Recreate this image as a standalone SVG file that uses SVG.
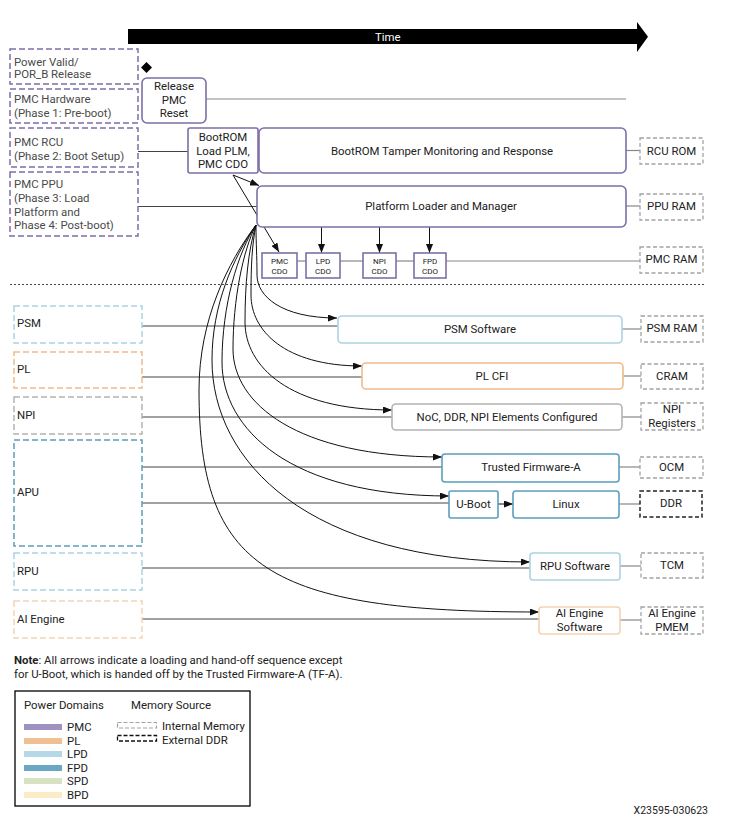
<svg xmlns="http://www.w3.org/2000/svg" width="740" height="827" viewBox="0 0 740 827">
<style>
text{font-family:Roboto,"Liberation Sans",Arial,sans-serif;font-size:11.4px;fill:#222}
.lbl{fill:#4a4a4a}
.c{text-anchor:middle}
.sm{font-size:8px}
.node{fill:#fff;stroke-width:1.6}
.pmc{stroke:#7d6fa6}
.pl{stroke:#efbb8c}
.lpd{stroke:#acd2e4}
.fpd{stroke:#5b9fbd}
.npi{stroke:#b3b3b3}
.aie{stroke:#f4d3b5}
.dom{fill:none;stroke-width:1.5;stroke-dasharray:6 3}
.mem{fill:#fff;stroke:#a3a3a3;stroke-width:1.3;stroke-dasharray:4 2.5}
.ext{fill:#fff;stroke:#222;stroke-width:1.5;stroke-dasharray:4 2.5}
.ln{fill:none;stroke:#444;stroke-width:1}
.gl{fill:none;stroke:#888;stroke-width:1.2}
.cv{fill:none;stroke:#111;stroke-width:1}
</style>
<defs>
<marker id="ah" markerUnits="userSpaceOnUse" markerWidth="9" markerHeight="7" refX="9" refY="3.5" orient="auto"><path d="M0,0 L9,3.5 L0,7 z" fill="#111"/></marker>
</defs>
<rect width="740" height="827" fill="#fff"/>

<g id="time-axis">
<path d="M128,29 L637,29 L637,22 L648,36.7 L637,52 L637,44 L128,44 Z" fill="#000"/>
<text x="375" y="40.5" style="fill:#fff">Time</text>
</g>

<g id="connectors">
<line class="gl" x1="206" y1="99" x2="626" y2="99"/>
<line class="ln" x1="138" y1="151.5" x2="188" y2="151.5"/>
<line class="ln" x1="138" y1="206.5" x2="257" y2="206.5"/>
<line class="gl" x1="626" y1="150.5" x2="640" y2="150.5"/>
<line class="gl" x1="626" y1="206" x2="640" y2="206"/>
<line class="gl" x1="297" y1="261" x2="306" y2="261"/>
<line class="gl" x1="340" y1="261" x2="363" y2="261"/>
<line class="gl" x1="396" y1="261" x2="414" y2="261"/>
<line class="gl" x1="446" y1="261" x2="640" y2="261"/>
<line x1="10" y1="284.5" x2="705" y2="284.5" stroke="#444" stroke-width="1" stroke-dasharray="2 2"/>
<line class="ln" x1="142" y1="326" x2="338" y2="326"/>
<line class="ln" x1="142" y1="377" x2="362" y2="377"/>
<line class="ln" x1="142" y1="417" x2="392" y2="417"/>
<line class="ln" x1="142" y1="467" x2="442" y2="467"/>
<line class="ln" x1="142" y1="503" x2="449" y2="503"/>
<line class="ln" x1="142" y1="568" x2="530" y2="568"/>
<line class="ln" x1="142" y1="619" x2="539" y2="619"/>
<line class="gl" x1="622" y1="329" x2="641" y2="329"/>
<line class="gl" x1="623" y1="376" x2="641" y2="376"/>
<line class="gl" x1="622" y1="417" x2="641" y2="417"/>
<line class="gl" x1="619" y1="467" x2="640" y2="467"/>
<line class="gl" x1="619" y1="504" x2="640" y2="504"/>
<line class="gl" x1="620" y1="566" x2="641" y2="566"/>
<line class="gl" x1="620" y1="620" x2="641" y2="620"/>
<line class="cv" x1="233" y1="175" x2="259" y2="185.5" marker-end="url(#ah)"/>
<line class="cv" x1="233" y1="175" x2="279" y2="252" marker-end="url(#ah)"/>
<line class="cv" x1="321.5" y1="227" x2="321.5" y2="253" marker-end="url(#ah)"/>
<line class="cv" x1="379.5" y1="227" x2="379.5" y2="253" marker-end="url(#ah)"/>
<line class="cv" x1="429.5" y1="227" x2="429.5" y2="253" marker-end="url(#ah)"/>
<line class="cv" x1="498" y1="504" x2="513" y2="504" marker-end="url(#ah)"/>
<path class="cv" d="M256,225 C256,245 257,255 257,275 C257,296 281,318 337,318" marker-end="url(#ah)"/>
<path class="cv" d="M256,225 C252,245 251,265 251,295 C251,330 284,366 362,366" marker-end="url(#ah)"/>
<path class="cv" d="M256,225 C248,250 245,285 245,322 C245,366 289,410 392,410" marker-end="url(#ah)"/>
<path class="cv" d="M256,225 C243,250 233,300 233,349 C233,403 296,457 442,457" marker-end="url(#ah)"/>
<path class="cv" d="M256,225 C238,252 222,305 222,362 C222,429 290,496 449,496" marker-end="url(#ah)"/>
<path class="cv" d="M256,225 C233,258 212,305 212,360 C212,461 307,562 530,562" marker-end="url(#ah)"/>
<path class="cv" d="M256,225 C228,262 199,320 199,390 C199,568 267,612 539,612" marker-end="url(#ah)"/>
</g>

<g id="power-valid"><rect class="dom pmc" x="10" y="49" width="128" height="35"/><text class="lbl" x="14" y="65.5">Power Valid/</text><text class="lbl" x="14" y="78">POR_B Release</text></g>
<g id="pmc-hardware"><rect class="dom pmc" x="10" y="89" width="128" height="34"/><text class="lbl" x="14" y="103">PMC Hardware</text><text class="lbl" x="14" y="116.5">(Phase 1: Pre-boot)</text></g>
<g id="pmc-rcu"><rect class="dom pmc" x="10" y="128" width="128" height="39"/><text class="lbl" x="14" y="146">PMC RCU</text><text class="lbl" x="14" y="159.5">(Phase 2: Boot Setup)</text></g>
<g id="pmc-ppu"><rect class="dom pmc" x="10" y="172" width="128" height="64"/><text class="lbl" x="14" y="188">PMC PPU</text><text class="lbl" x="14" y="202">(Phase 3: Load</text><text class="lbl" x="14" y="215.5">Platform and</text><text class="lbl" x="14" y="229">Phase 4: Post-boot)</text></g>
<g id="por-marker"><path d="M146.5,62 L152,67.5 L146.5,73 L141,67.5 Z" fill="#000"/></g>

<g id="release-pmc-reset"><rect class="node pmc" x="142" y="78" width="64" height="45" rx="5"/><text class="c" x="174" y="90">Release</text><text class="c" x="174" y="104">PMC</text><text class="c" x="174" y="117">Reset</text></g>
<g id="bootrom-load"><rect class="node pmc" x="188" y="128" width="70" height="45" rx="2"/><text class="c" x="223" y="141">BootROM</text><text class="c" x="223" y="155">Load PLM,</text><text class="c" x="223" y="168">PMC CDO</text></g>
<g id="bootrom-tamper"><rect class="node pmc" x="259" y="128" width="367" height="45" rx="5"/><text class="c" x="442" y="154.5">BootROM Tamper Monitoring and Response</text></g>
<g id="plm"><rect class="node pmc" x="257" y="186" width="369" height="41" rx="5"/><text class="c" x="441" y="210">Platform Loader and Manager</text></g>
<g id="pmc-cdo"><rect class="node pmc" x="262" y="253" width="35" height="25"/><text class="c sm" x="279.5" y="263.5">PMC</text><text class="c sm" x="279.5" y="273.5">CDO</text></g>
<g id="lpd-cdo"><rect class="node pmc" x="306" y="253" width="34" height="25"/><text class="c sm" x="323" y="263.5">LPD</text><text class="c sm" x="323" y="273.5">CDO</text></g>
<g id="npi-cdo"><rect class="node pmc" x="363" y="253" width="33" height="25"/><text class="c sm" x="379.5" y="263.5">NPI</text><text class="c sm" x="379.5" y="273.5">CDO</text></g>
<g id="fpd-cdo"><rect class="node pmc" x="414" y="253" width="32" height="25"/><text class="c sm" x="430" y="263.5">FPD</text><text class="c sm" x="430" y="273.5">CDO</text></g>
<g id="rcu-rom"><rect class="mem" x="640" y="138" width="63" height="26"/><text class="c" x="671.5" y="154.5">RCU ROM</text></g>
<g id="ppu-ram"><rect class="mem" x="640" y="194" width="63" height="26"/><text class="c" x="671.5" y="210">PPU RAM</text></g>
<g id="pmc-ram"><rect class="mem" x="640" y="247" width="63" height="26"/><text class="c" x="671.5" y="263">PMC RAM</text></g>

<g id="psm"><rect class="dom lpd" x="14" y="306" width="128" height="37"/><text x="17" y="327">PSM</text></g>
<g id="pl"><rect class="dom pl" x="14" y="352" width="128" height="36"/><text x="17" y="373">PL</text></g>
<g id="npi"><rect class="dom npi" x="14" y="397" width="128" height="37"/><text x="17" y="419">NPI</text></g>
<g id="apu"><rect class="dom fpd" x="14" y="440" width="128" height="106"/><text x="17" y="496">APU</text></g>
<g id="rpu"><rect class="dom lpd" x="14" y="553" width="128" height="37"/><text x="17" y="574.5">RPU</text></g>
<g id="ai-engine"><rect class="dom aie" x="14" y="601" width="128" height="37"/><text x="17" y="623">AI Engine</text></g>

<g id="psm-software"><rect class="node lpd" x="338" y="316" width="284" height="27" rx="4"/><text class="c" x="480" y="333">PSM Software</text></g>
<g id="pl-cfi"><rect class="node pl" x="362" y="363" width="261" height="26" rx="4"/><text class="c" x="492" y="380">PL CFI</text></g>
<g id="noc-ddr-npi"><rect class="node npi" x="392" y="404" width="230" height="26" rx="4"/><text class="c" x="507" y="420.5">NoC, DDR, NPI Elements Configured</text></g>
<g id="tf-a"><rect class="node fpd" x="442" y="454" width="177" height="28" rx="3"/><text class="c" x="531" y="470.5">Trusted Firmware-A</text></g>
<g id="u-boot"><rect class="node fpd" x="449" y="491" width="49" height="27" rx="2"/><text class="c" x="473.5" y="507.5">U-Boot</text></g>
<g id="linux"><rect class="node fpd" x="513" y="491" width="106" height="27" rx="3"/><text class="c" x="566" y="507.5">Linux</text></g>
<g id="rpu-software"><rect class="node lpd" x="530" y="553" width="90" height="27" rx="3"/><text class="c" x="575" y="569.5">RPU Software</text></g>
<g id="aie-software"><rect class="node aie" x="539" y="607" width="81" height="27" rx="3"/><text class="c" x="579.5" y="617">AI Engine</text><text class="c" x="579.5" y="630.5">Software</text></g>

<g id="psm-ram"><rect class="mem" x="641" y="316" width="62" height="26"/><text class="c" x="672" y="332">PSM RAM</text></g>
<g id="cram"><rect class="mem" x="641" y="364" width="62" height="25"/><text class="c" x="672" y="380">CRAM</text></g>
<g id="npi-registers"><rect class="mem" x="641" y="403" width="62" height="27"/><text class="c" x="672" y="413">NPI</text><text class="c" x="672" y="426.5">Registers</text></g>
<g id="ocm"><rect class="mem" x="640" y="457" width="63" height="21"/><text class="c" x="671.5" y="470.5">OCM</text></g>
<g id="ddr"><rect class="ext" x="640" y="491" width="62" height="26"/><text class="c" x="671" y="506.5">DDR</text></g>
<g id="tcm"><rect class="mem" x="641" y="553" width="62" height="25"/><text class="c" x="672" y="569">TCM</text></g>
<g id="aie-pmem"><rect class="mem" x="641" y="607" width="62" height="27"/><text class="c" x="672" y="617">AI Engine</text><text class="c" x="672" y="630.5">PMEM</text></g>

<g id="note">
<text x="14" y="663.5"><tspan font-weight="bold">Note</tspan>: All arrows indicate a loading and hand-off sequence except</text>
<text x="14" y="677.5">for U-Boot, which is handed off by the Trusted Firmware-A (TF-A).</text>
</g>

<g id="legend">
<rect x="15" y="691" width="235" height="115" fill="#fff" stroke="#000" stroke-width="1.3"/>
<text x="24" y="709">Power Domains</text>
<text x="131" y="709">Memory Source</text>
<rect x="24" y="724" width="38" height="6" fill="#9d92c2"/><text x="67" y="731">PMC</text>
<rect x="24" y="738" width="38" height="6" fill="#f0bf92"/><text x="67" y="745">PL</text>
<rect x="24" y="751" width="38" height="6" fill="#b5d8e8"/><text x="67" y="758">LPD</text>
<rect x="24" y="765" width="38" height="6" fill="#6aa7c3"/><text x="67" y="772">FPD</text>
<rect x="24" y="778" width="38" height="6" fill="#d6e2c1"/><text x="67" y="785">SPD</text>
<rect x="24" y="792" width="38" height="6" fill="#fcecc6"/><text x="67" y="799">BPD</text>
<rect x="117.5" y="722.5" width="39" height="5.5" fill="none" stroke="#a3a3a3" stroke-width="1.2" stroke-dasharray="4 2"/>
<text x="162" y="730">Internal Memory</text>
<rect x="117.5" y="735.5" width="39" height="5.5" fill="none" stroke="#111" stroke-width="1.3" stroke-dasharray="4 2"/>
<text x="162" y="744">External DDR</text>
</g>

<text x="708" y="814" style="text-anchor:end;font-size:10.5px">X23595-030623</text>
</svg>
